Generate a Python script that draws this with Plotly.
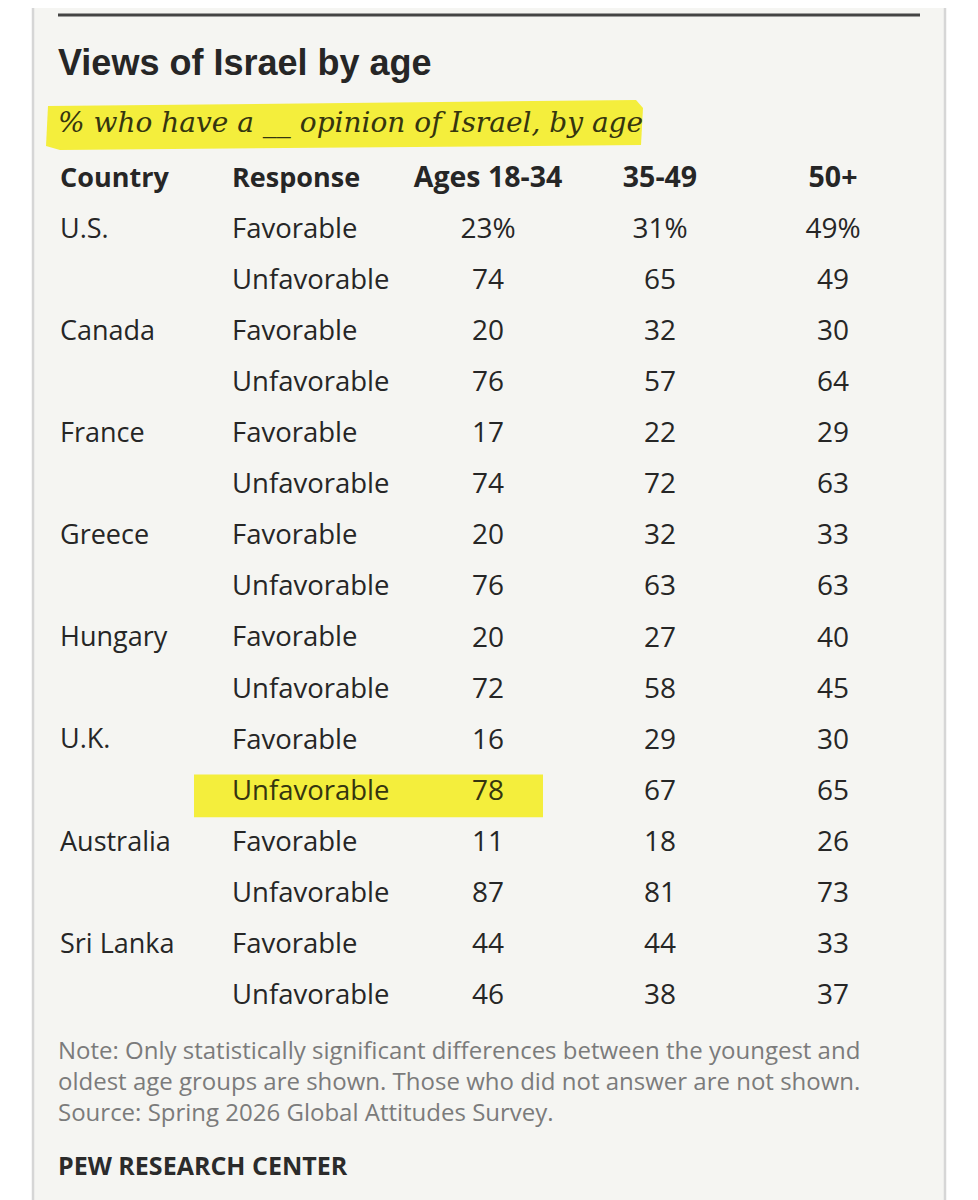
import plotly.graph_objects as go

W, H = 978, 1200

headers = ["Country", "Response", "Ages 18-34", "35-49", "50+"]
countries = ["U.S.", "Canada", "France", "Greece", "Hungary", "U.K.", "Australia", "Sri Lanka"]
responses = ["Favorable", "Unfavorable"]
ages_18_34 = [23, 74, 20, 76, 17, 74, 20, 76, 20, 72, 16, 78, 11, 87, 44, 46]
ages_35_49 = [31, 65, 32, 57, 22, 72, 32, 63, 27, 58, 29, 67, 18, 81, 44, 38]
ages_50_plus = [49, 49, 30, 64, 29, 63, 33, 63, 40, 45, 30, 65, 26, 73, 33, 37]
highlight = ("U.K.", "Unfavorable")

title = "Views of Israel by age"
subtitle = "% who have a __ opinion of Israel, by age"
note = ("Note: Only statistically significant differences between the youngest and<br>"
        "oldest age groups are shown. Those who did not answer are not shown.<br>"
        "Source: Spring 2026 Global Attitudes Survey.")
source = "PEW RESEARCH CENTER"

# page body adds an 8px margin, so shift everything back
OFF = 8
col_x = [x - OFF for x in [60, 232, 488, 660, 833]]
row0_px, pitch = 223, 51.07
ink = "#262626"
olive = "#35350f"
yellow = "#f4ee3c"
body_font = "Open Sans"

# one row per country/response pair
row_country, row_response = [], []
for c in countries:
    for i, r in enumerate(responses):
        row_country.append(c if i == 0 else "")
        row_response.append(r)
rows = list(range(len(row_response)))
hl_row = [i for i in rows if countries[i // 2] == highlight[0] and row_response[i] == highlight[1]][0]


def fmt(vals):
    return [f"{v}%" if i == 0 else str(v) for i, v in enumerate(vals)]


def px(x):
    return (x - OFF) / W


def py(y):
    return 1 - (y - OFF) / H


fig = go.Figure()

# header row sits at row -1
fig.add_trace(go.Scatter(
    x=col_x[:2], y=[-1, -1], text=headers[:2], mode="text",
    textposition="middle right",
    textfont=dict(family=body_font, size=27, color=ink, weight="bold"),
    hoverinfo="skip"))
fig.add_trace(go.Scatter(
    x=col_x[2:], y=[-1] * 3, text=headers[2:], mode="text",
    textposition="middle center",
    textfont=dict(family=body_font, size=28.5, color=ink, weight="bold"),
    hoverinfo="skip"))

txt_col = [olive if i == hl_row else ink for i in rows]

fig.add_trace(go.Scatter(
    x=[col_x[0]] * len(rows), y=rows, text=row_country, mode="text",
    textposition="middle right",
    textfont=dict(family=body_font, size=27, color=ink),
    hoverinfo="skip"))
fig.add_trace(go.Scatter(
    x=[col_x[1]] * len(rows), y=rows, text=row_response, mode="text",
    textposition="middle right",
    textfont=dict(family=body_font, size=27.5, color=txt_col),
    hoverinfo="skip"))
for k, vals in enumerate([ages_18_34, ages_35_49, ages_50_plus]):
    fig.add_trace(go.Scatter(
        x=[col_x[2 + k]] * len(rows), y=rows, text=fmt(vals), mode="text",
        textposition="middle center",
        textfont=dict(family=body_font, size=28,
                      color=txt_col if k == 0 else ink),
        hoverinfo="skip"))

shapes = [
    # panel
    dict(type="rect", xref="paper", yref="paper", x0=px(33), x1=px(945), y0=-0.01, y1=1.02,
         fillcolor="#f5f5f2", line=dict(color="#d6d6d6", width=2.5), layer="below"),
    # top rule
    dict(type="line", xref="paper", yref="paper", x0=px(58), x1=px(920), y0=py(15), y1=py(15),
         line=dict(color="#444444", width=3)),
    # subtitle highlight
    dict(type="path", xref="paper", yref="paper",
         path=(f"M {px(46)},{py(146)} L {px(48)},{py(106)} L {px(636)},{py(100)} "
               f"L {px(643)},{py(108)} L {px(641)},{py(145)} L {px(60)},{py(150)} Z"),
         fillcolor=yellow, line=dict(width=0), layer="below"),
    # highlighted row
    dict(type="rect", xref="x", yref="y", x0=194 - OFF, x1=543 - OFF,
         y0=hl_row - 0.36, y1=hl_row + 0.48,
         fillcolor=yellow, line=dict(width=0), layer="below"),
]

annotations = [
    dict(text=title, x=px(56), y=py(62), xref="paper", yref="paper", xanchor="left",
         yanchor="middle", showarrow=False,
         font=dict(family="Liberation Sans", size=36, color=ink, weight="bold")),
    dict(text=subtitle, x=px(56), y=py(123), xref="paper", yref="paper", xanchor="left",
         yanchor="middle", showarrow=False,
         font=dict(family="DejaVu Serif", size=28, color=olive, style="italic")),
    dict(text=note, x=px(56), y=py(1080), xref="paper", yref="paper", xanchor="left",
         yanchor="middle", align="left", showarrow=False,
         font=dict(family=body_font, size=24, color="#7b7b7b"), ),
    dict(text=source, x=px(56), y=py(1165), xref="paper", yref="paper", xanchor="left",
         yanchor="middle", showarrow=False,
         font=dict(family=body_font, size=25, color="#2b2b2b", weight="bold")),
]

fig.update_layout(
    width=W, height=H,
    margin=dict(l=0, r=0, t=0, b=0),
    paper_bgcolor="white",
    plot_bgcolor="rgba(0,0,0,0)",
    showlegend=False,
    shapes=shapes,
    annotations=annotations,
)
fig.update_xaxes(range=[0, W], visible=False, fixedrange=True)
fig.update_yaxes(range=[(H - row0_px) / pitch, -row0_px / pitch], visible=False, fixedrange=True)

fig.write_html("out.html")
